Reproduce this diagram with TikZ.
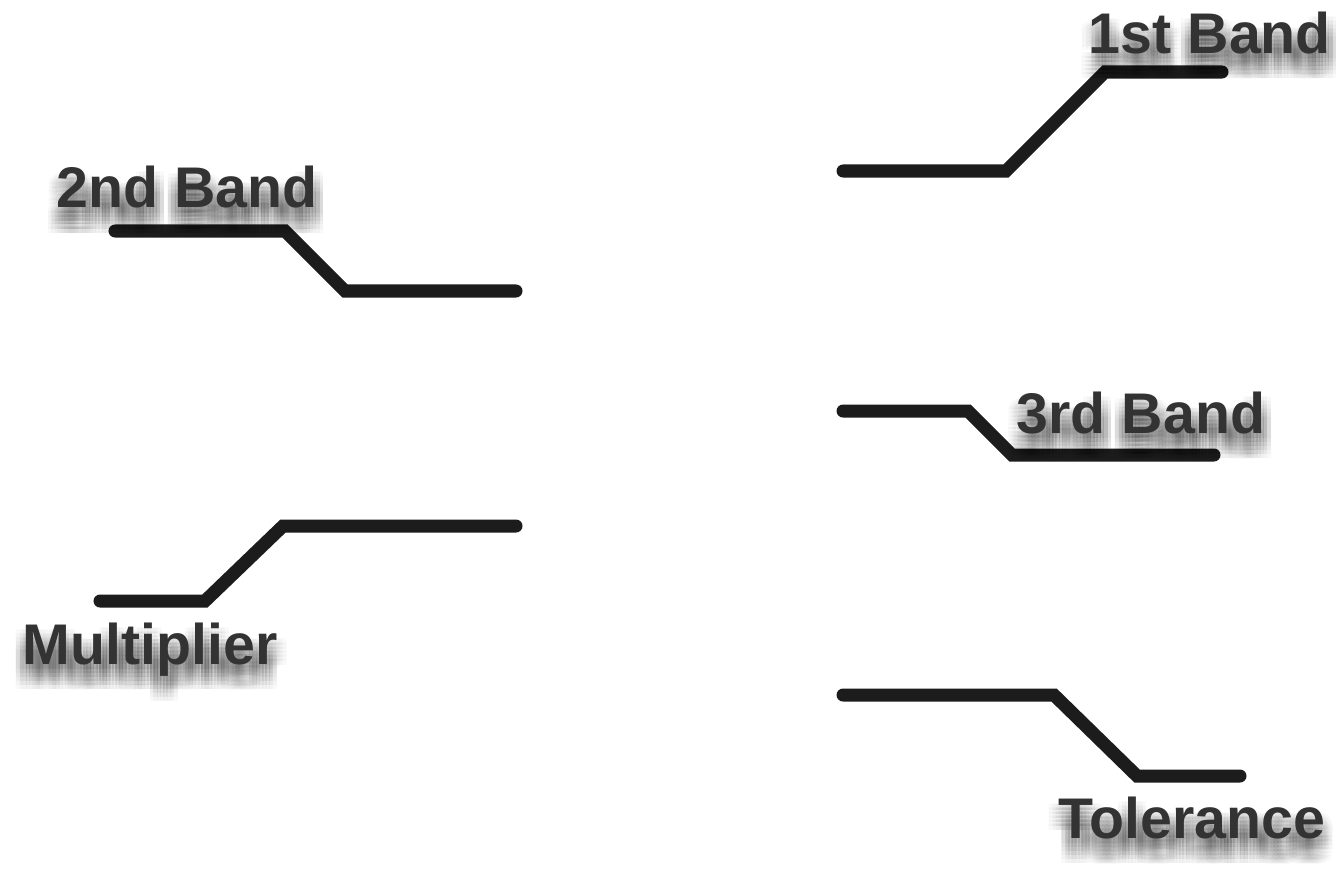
\documentclass[tikz,border=0pt]{standalone}
\usepackage{fontspec}
\setmainfont{Liberation Sans}
\begin{document}
\begin{tikzpicture}[x=0.01cm,y=-0.01cm,
  band/.style={draw=linecol,line width=0.13cm,line cap=round,line join=miter},
  lbl/.style={anchor=base,inner sep=0pt,text=textcol,font=\fontsize{16.3pt}{19pt}\selectfont\bfseries},
  shd/.style={anchor=base,inner sep=0pt,text=black,text opacity=0.024,font=\fontsize{16.3pt}{19pt}\selectfont\bfseries}]
\definecolor{linecol}{HTML}{1C1C1C}
\definecolor{textcol}{HTML}{333333}
\useasboundingbox[fill=white] (0,0) rectangle (1343,879);
\newcommand{\shlabel}[4]{%
  \foreach \dx in {-10,-6.5,-3,0,3,6.5,10}{\foreach \dy in {5,9,13,17,21,25}{
    \node[shd] at (#2+\dx,#3+\dy) {#4};}}
  \node[lbl] (#1) at (#2,#3) {#4};}
% lines
\draw[band] (843,171) -- (1006,171) -- (1105,72) -- (1222,72);
\draw[band] (115,231) -- (285,231) -- (345,291) -- (516,291);
\draw[band] (843,411) -- (968,411) -- (1012,455) -- (1214,455);
\draw[band] (100,601) -- (205,601) -- (283,526) -- (516,526);
\draw[band] (843,695) -- (1054,695) -- (1137,776) -- (1240,776);
% labels
\shlabel{first}{1210}{54}{1st Band}
\shlabel{second}{187}{208}{2nd Band}
\shlabel{third}{1141}{433}{3rd Band}
\shlabel{mult}{150}{664}{Multiplier}
\shlabel{tol}{1192}{838}{Tolerance}
\end{tikzpicture}
\end{document}
